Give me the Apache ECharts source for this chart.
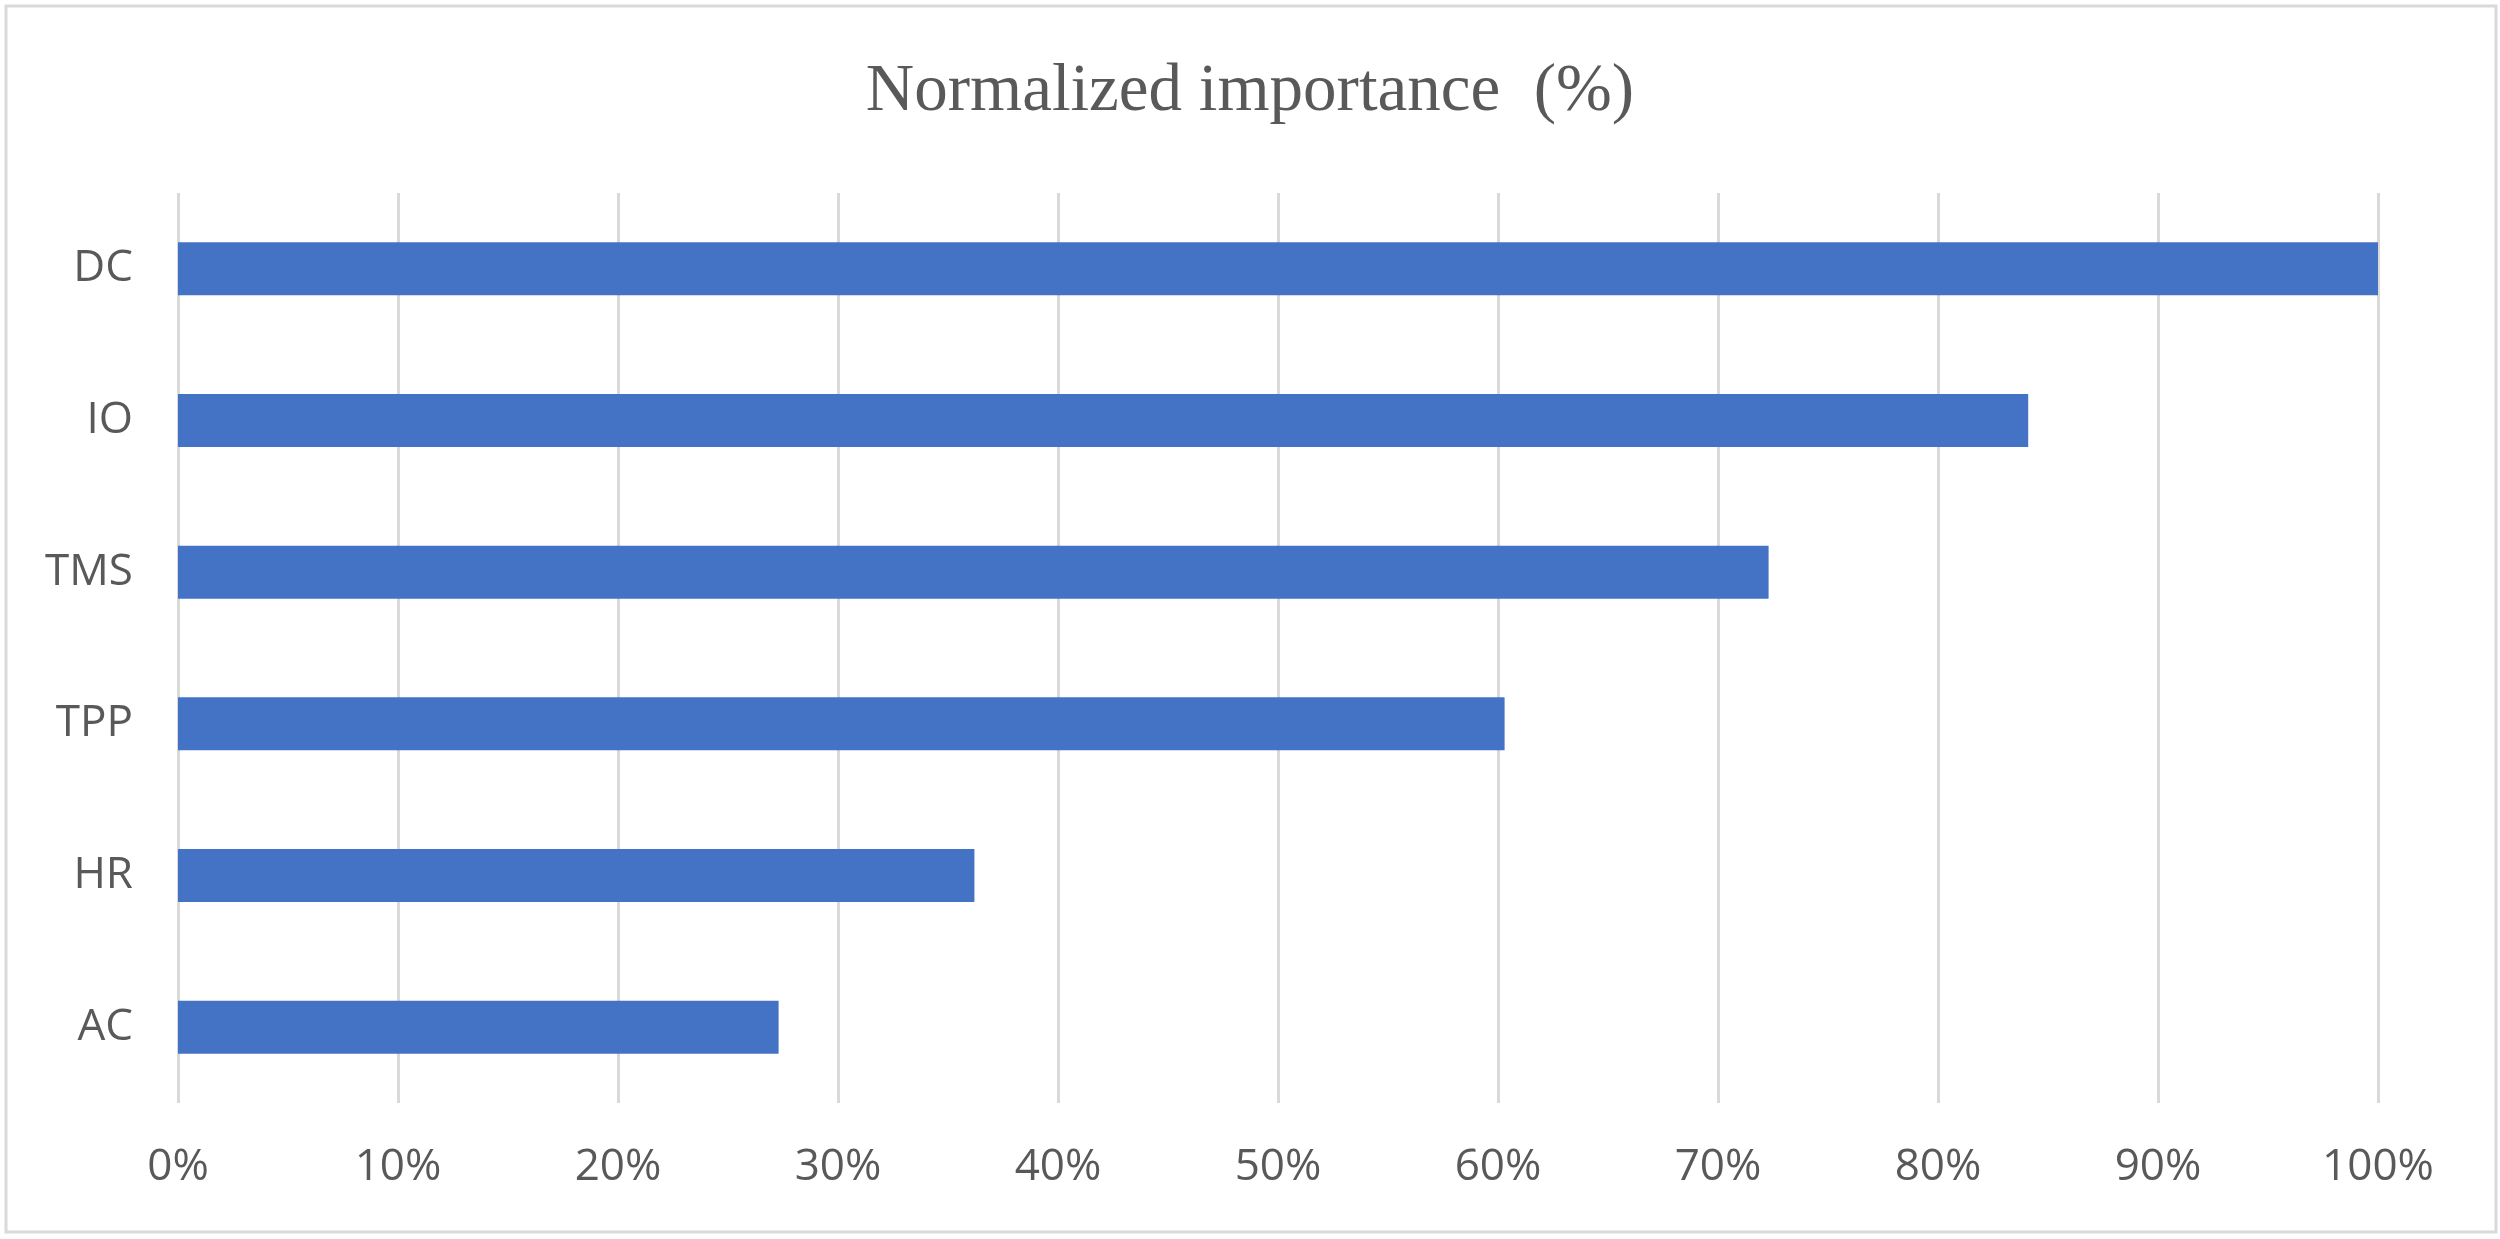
<!DOCTYPE html>
<html>
<head>
<meta charset="utf-8">
<script src="https://cdn.jsdelivr.net/npm/echarts@6/dist/echarts.min.js"></script>
<style>
html,body{margin:0;padding:0;background:#fff;}
#chart{width:2500px;height:1239px;}
</style>
</head>
<body>
<div id="chart"></div>
<script>
const titleText = 'Normalized importance  (%)';
const categories = ['DC', 'IO', 'TMS', 'TPP', 'HR', 'AC'];
const importance = [100, 84.1, 72.3, 60.3, 36.2, 27.3];
const tickLabels = ['0%', '10%', '20%', '30%', '40%', '50%', '60%', '70%', '80%', '90%', '100%'];

const labelFont = '"Open Sans", "Noto Sans", sans-serif';
const chart = echarts.init(document.getElementById('chart'));
chart.setOption({
  backgroundColor: '#ffffff',
  animation: false,
  graphic: [{
    type: 'rect',
    shape: { x: 6, y: 6, width: 2490, height: 1226 },
    style: { fill: 'none', stroke: '#d9d9d9', lineWidth: 3 },
    silent: true
  }],
  title: {
    text: titleText,
    left: 'center',
    top: 54,
    textStyle: {
      fontFamily: '"Liberation Serif", "Times New Roman", serif',
      fontSize: 67,
      fontWeight: 'normal',
      color: '#595959'
    }
  },
  grid: { left: 178, right: 122, top: 193, bottom: 136, containLabel: false },
  xAxis: {
    type: 'value',
    min: 0,
    max: 100,
    interval: 10,
    axisLine: { show: false },
    axisTick: { show: false },
    splitLine: { show: true, lineStyle: { color: '#d9d9d9', width: 3 } },
    axisLabel: {
      margin: 42,
      fontSize: 44,
      fontFamily: labelFont,
      color: '#595959',
      formatter: function (v) { return tickLabels[Math.round(v / 10)]; }
    }
  },
  yAxis: {
    type: 'category',
    data: categories,
    inverse: true,
    axisLine: { show: false },
    axisTick: { show: false },
    splitLine: { show: false },
    axisLabel: {
      margin: 45,
      fontSize: 44,
      fontFamily: labelFont,
      color: '#595959'
    }
  },
  series: [{
    type: 'bar',
    data: importance,
    barWidth: 53,
    itemStyle: { color: '#4472C4' }
  }]
});
</script>
</body>
</html>
